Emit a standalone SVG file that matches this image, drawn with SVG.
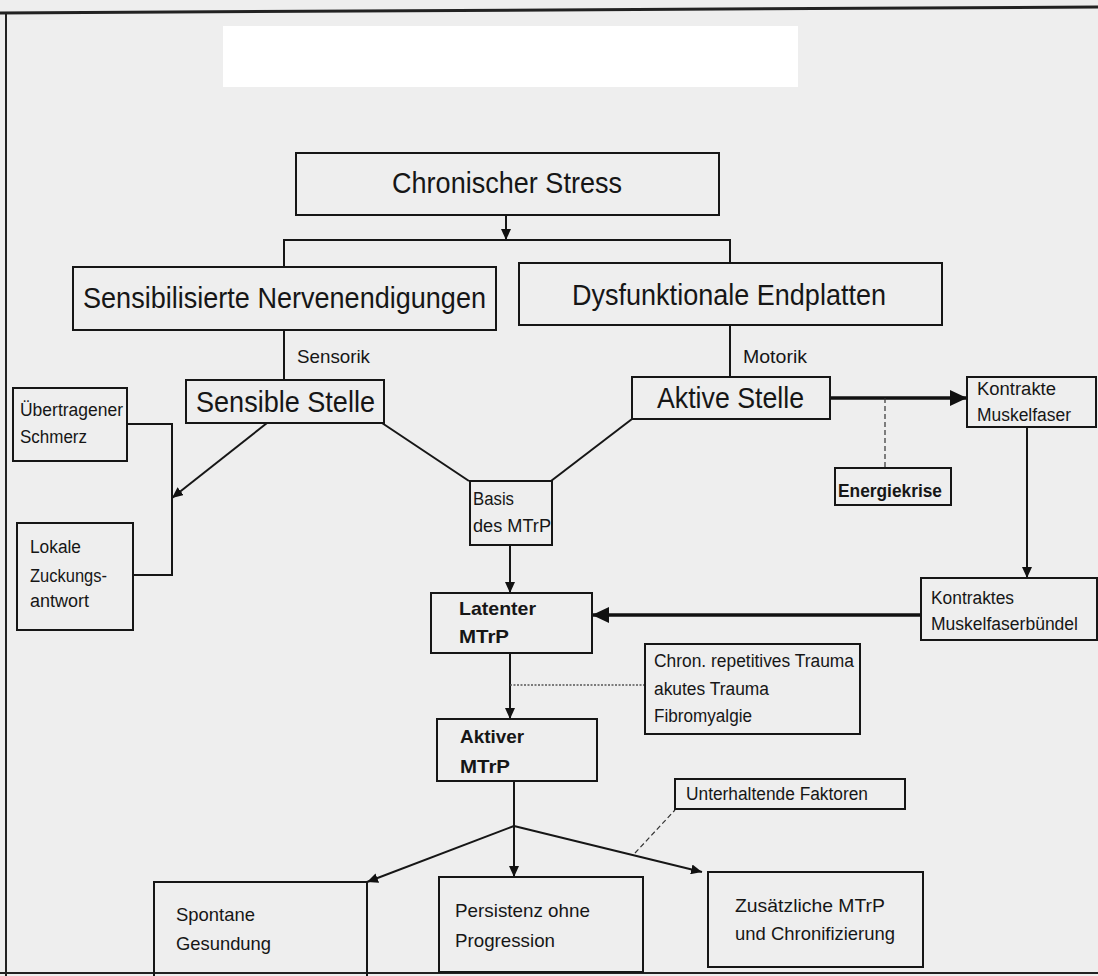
<svg xmlns="http://www.w3.org/2000/svg" width="1098" height="976" viewBox="0 0 1098 976">
<defs>
<style>
.box{fill:none;stroke:#161616;stroke-width:2}
.ln{fill:none;stroke:#161616;stroke-width:2}
.thick{fill:none;stroke:#111;stroke-width:3.5}
.dash{fill:none;stroke:#333;stroke-width:1.2;stroke-dasharray:5 3}
.dot{fill:none;stroke:#555;stroke-width:1.5;stroke-dasharray:2 1.5}
text{font-family:"Liberation Sans",Arial,sans-serif;fill:#161616}
.big{font-size:30px}
.mid{font-size:19px}
.sm{font-size:18px}
.b{font-weight:bold}
</style>
<marker id="ah" markerUnits="userSpaceOnUse" markerWidth="12" markerHeight="10" refX="11" refY="5" orient="auto">
<path d="M0,0 L11,5 L0,10 z" fill="#111"/>
</marker>
<marker id="ahb" markerUnits="userSpaceOnUse" markerWidth="18" markerHeight="16" refX="17" refY="8" orient="auto">
<path d="M0,0 L17,8 L0,16 z" fill="#111"/>
</marker>
</defs>
<rect x="0" y="0" width="1098" height="976" fill="#eeeeee"/>
<rect x="223" y="26" width="575" height="61" fill="#ffffff"/>
<g id="frame">
<line x1="0" y1="13" x2="1098" y2="7" stroke="#222" stroke-width="3"/>
<line x1="6" y1="12" x2="6" y2="976" stroke="#222" stroke-width="2"/>
<line x1="0" y1="973" x2="1098" y2="973" stroke="#222" stroke-width="2"/>
</g>
<g id="connectors">
<line class="ln" x1="506" y1="215" x2="506" y2="240" marker-end="url(#ah)"/>
<polyline class="ln" points="284,267 284,240 730,240 730,263"/>
<line class="ln" x1="284" y1="330" x2="284" y2="380"/>
<line class="ln" x1="730" y1="325" x2="730" y2="377"/>
<line class="thick" x1="830" y1="398" x2="967" y2="398" marker-end="url(#ahb)"/>
<line class="dash" x1="885" y1="398" x2="885" y2="468"/>
<line class="ln" x1="1027" y1="427" x2="1027" y2="578" marker-end="url(#ah)"/>
<line class="thick" x1="921" y1="615" x2="592" y2="615" marker-end="url(#ahb)"/>
<line class="ln" x1="382" y1="423" x2="469" y2="481"/>
<line class="ln" x1="632" y1="419" x2="551" y2="481"/>
<line class="ln" x1="267" y1="423" x2="172" y2="498" marker-end="url(#ah)"/>
<polyline class="ln" points="127,424 172,424 172,575 133,575"/>
<line class="ln" x1="510" y1="545" x2="510" y2="593" marker-end="url(#ah)"/>
<line class="ln" x1="510" y1="653" x2="510" y2="719" marker-end="url(#ah)"/>
<line class="dot" x1="510" y1="685" x2="645" y2="685"/>
<line class="ln" x1="514" y1="781" x2="514" y2="877" marker-end="url(#ah)"/>
<line class="ln" x1="514" y1="826" x2="367" y2="882" marker-end="url(#ah)"/>
<line class="ln" x1="514" y1="826" x2="702" y2="872" marker-end="url(#ah)"/>
<line class="dash" x1="635" y1="853" x2="675" y2="810"/>
</g>
<g id="n-stress">
<rect class="box" x="296" y="153" width="423" height="62"/>
<text class="big" x="507" y="193" text-anchor="middle" textLength="230" lengthAdjust="spacingAndGlyphs">Chronischer Stress</text>
</g>
<g id="n-sensibilisiert">
<rect class="box" x="73" y="267" width="423" height="63"/>
<text class="big" x="83" y="308" textLength="403" lengthAdjust="spacingAndGlyphs">Sensibilisierte Nervenendigungen</text>
</g>
<g id="n-dysfunktional">
<rect class="box" x="519" y="263" width="423" height="62"/>
<text class="big" x="572" y="305" textLength="314" lengthAdjust="spacingAndGlyphs">Dysfunktionale Endplatten</text>
</g>
<g id="l-sensorik"><text class="mid" x="297" y="363" textLength="73" lengthAdjust="spacingAndGlyphs">Sensorik</text></g>
<g id="l-motorik"><text class="mid" x="743" y="363" textLength="64" lengthAdjust="spacingAndGlyphs">Motorik</text></g>
<g id="n-sensible">
<rect class="box" x="186" y="380" width="198" height="43"/>
<text class="big" x="196" y="412" textLength="179" lengthAdjust="spacingAndGlyphs">Sensible Stelle</text>
</g>
<g id="n-aktive">
<rect class="box" x="632" y="377" width="198" height="42"/>
<text class="big" x="657" y="408" textLength="147" lengthAdjust="spacingAndGlyphs">Aktive Stelle</text>
</g>
<g id="n-kontrakte">
<rect class="box" x="967" y="377" width="129" height="50"/>
<text class="sm" x="977" y="395" textLength="79" lengthAdjust="spacingAndGlyphs">Kontrakte</text>
<text class="sm" x="977" y="421" textLength="94" lengthAdjust="spacingAndGlyphs">Muskelfaser</text>
</g>
<g id="n-energie">
<rect class="box" x="835" y="468" width="116" height="37"/>
<text class="sm b" x="838" y="497" textLength="104" lengthAdjust="spacingAndGlyphs">Energiekrise</text>
</g>
<g id="n-buendel">
<rect class="box" x="921" y="578" width="176" height="62"/>
<text class="sm" x="931" y="604" textLength="83" lengthAdjust="spacingAndGlyphs">Kontraktes</text>
<text class="sm" x="931" y="630" textLength="147" lengthAdjust="spacingAndGlyphs">Muskelfaserbündel</text>
</g>
<g id="n-uebertragen">
<rect class="box" x="13" y="388" width="114" height="73"/>
<text class="sm" x="20" y="416" textLength="103" lengthAdjust="spacingAndGlyphs">Übertragener</text>
<text class="sm" x="20" y="443" textLength="67" lengthAdjust="spacingAndGlyphs">Schmerz</text>
</g>
<g id="n-lokale">
<rect class="box" x="17" y="523" width="116" height="107"/>
<text class="sm" x="30" y="553" textLength="51" lengthAdjust="spacingAndGlyphs">Lokale</text>
<text class="sm" x="30" y="582" textLength="77" lengthAdjust="spacingAndGlyphs">Zuckungs-</text>
<text class="sm" x="30" y="607" textLength="59" lengthAdjust="spacingAndGlyphs">antwort</text>
</g>
<g id="n-basis">
<rect class="box" x="470" y="481" width="82" height="64"/>
<text class="sm" x="473" y="505" textLength="41" lengthAdjust="spacingAndGlyphs">Basis</text>
<text class="sm" x="473" y="532" textLength="78" lengthAdjust="spacingAndGlyphs">des MTrP</text>
</g>
<g id="n-latent">
<rect class="box" x="431" y="593" width="161" height="60"/>
<text class="mid b" x="459" y="615" textLength="77" lengthAdjust="spacingAndGlyphs">Latenter</text>
<text class="mid b" x="459" y="643" textLength="50" lengthAdjust="spacingAndGlyphs">MTrP</text>
</g>
<g id="n-trauma">
<rect class="box" x="645" y="644" width="215" height="90"/>
<text class="sm" x="654" y="667" textLength="200" lengthAdjust="spacingAndGlyphs">Chron. repetitives Trauma</text>
<text class="sm" x="654" y="695" textLength="115" lengthAdjust="spacingAndGlyphs">akutes Trauma</text>
<text class="sm" x="654" y="722" textLength="98" lengthAdjust="spacingAndGlyphs">Fibromyalgie</text>
</g>
<g id="n-aktiv">
<rect class="box" x="437" y="719" width="160" height="62"/>
<text class="mid b" x="460" y="743" textLength="64" lengthAdjust="spacingAndGlyphs">Aktiver</text>
<text class="mid b" x="460" y="773" textLength="50" lengthAdjust="spacingAndGlyphs">MTrP</text>
</g>
<g id="n-unterhaltend">
<rect class="box" x="675" y="779" width="230" height="30"/>
<text class="sm" x="686" y="800" textLength="182" lengthAdjust="spacingAndGlyphs">Unterhaltende Faktoren</text>
</g>
<g id="n-spontan">
<rect class="box" x="154" y="882" width="213" height="96"/>
<text class="mid" x="176" y="921" textLength="79" lengthAdjust="spacingAndGlyphs">Spontane</text>
<text class="mid" x="176" y="950" textLength="95" lengthAdjust="spacingAndGlyphs">Gesundung</text>
</g>
<g id="n-persistenz">
<rect class="box" x="439" y="877" width="204" height="95"/>
<text class="mid" x="455" y="917" textLength="135" lengthAdjust="spacingAndGlyphs">Persistenz ohne</text>
<text class="mid" x="455" y="947" textLength="100" lengthAdjust="spacingAndGlyphs">Progression</text>
</g>
<g id="n-zusaetzlich">
<rect class="box" x="708" y="872" width="215" height="95"/>
<text class="mid" x="735" y="912" textLength="150" lengthAdjust="spacingAndGlyphs">Zusätzliche MTrP</text>
<text class="mid" x="735" y="940" textLength="160" lengthAdjust="spacingAndGlyphs">und Chronifizierung</text>
</g>
</svg>
